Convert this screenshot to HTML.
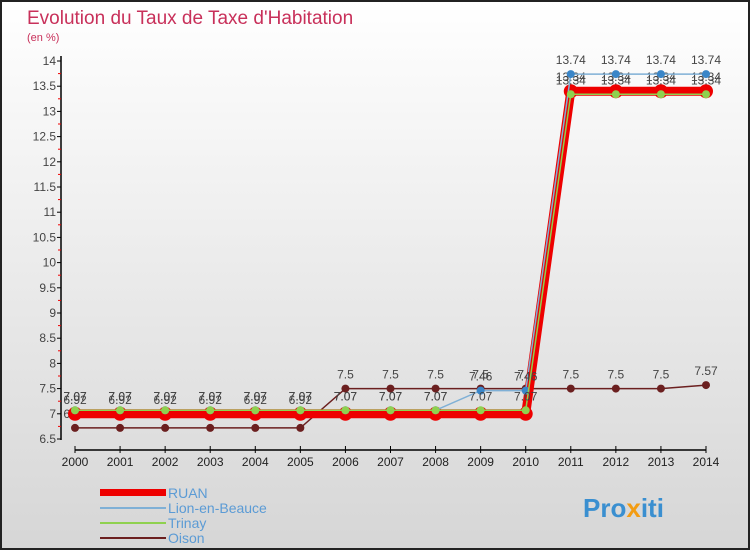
<!DOCTYPE html>
<html><head><meta charset="utf-8"><style>
body{margin:0;width:750px;height:550px;overflow:hidden;font-family:"Liberation Sans",sans-serif}
</style></head><body>
<svg width="750" height="550" xmlns="http://www.w3.org/2000/svg">
<defs><linearGradient id="bg" x1="0" y1="0" x2="0" y2="1"><stop offset="0" stop-color="#ffffff"/><stop offset="1" stop-color="#d6d6d6"/></linearGradient></defs>
<rect x="1" y="1" width="748" height="548" fill="url(#bg)" stroke="#222" stroke-width="2"/>
<text x="27" y="24" font-size="19" fill="#c8305a">Evolution du Taux de Taxe d'Habitation</text>
<text x="27" y="41" font-size="11" fill="#c8305a">(en %)</text>
<g id="axes"></g><g id="series"></g>
<g>
<rect x="100" y="489" width="66" height="7" fill="#e00"/>
<text x="168" y="498" font-size="14" fill="#5b9bd5">RUAN</text>
<line x1="100" y1="508" x2="166" y2="508" stroke="#7fb0d6" stroke-width="2"/>
<text x="168" y="513" font-size="14" fill="#5b9bd5">Lion-en-Beauce</text>
<line x1="100" y1="523" x2="166" y2="523" stroke="#8fd14f" stroke-width="2"/>
<text x="168" y="528" font-size="14" fill="#5b9bd5">Trinay</text>
<line x1="100" y1="538" x2="166" y2="538" stroke="#6b1f1f" stroke-width="2"/>
<text x="168" y="543" font-size="14" fill="#5b9bd5">Oison</text>
</g>
<text x="583" y="517" font-size="26" font-weight="bold" fill="#3a8fd0">Pro<tspan fill="#f39c12">x</tspan>iti</text>
</svg>
<script>
const years=[2000,2001,2002,2003,2004,2005,2006,2007,2008,2009,2010,2011,2012,2013,2014];
const yTicks=[6.5,7,7.5,8,8.5,9,9.5,10,10.5,11,11.5,12,12.5,13,13.5,14];
const ruan=[7,7,7,7,7,7,7,7,7,7,7,13.4,13.4,13.4,13.4];
const lion=[7.07,7.07,7.07,7.07,7.07,7.07,7.07,7.07,7.07,7.46,7.46,13.74,13.74,13.74,13.74];
const trinay=[7.07,7.07,7.07,7.07,7.07,7.07,7.07,7.07,7.07,7.07,7.07,13.34,13.34,13.34,13.34];
const oison=[6.72,6.72,6.72,6.72,6.72,6.72,7.5,7.5,7.5,7.5,7.5,7.5,7.5,7.5,7.57];
const ruanLbl=["6.92","6.92","6.92","6.92","6.92","6.92","","","","","","13.34","13.34","13.34","13.34"];
const NS="http://www.w3.org/2000/svg";
const X=i=>75+i*(706-75)/14;
const Y=v=>439-(v-6.5)*(439-61)/7.5;
function mk(t,a,p){const e=document.createElementNS(NS,t);for(const k in a)e.setAttribute(k,a[k]);p.appendChild(e);return e;}
const ax=document.getElementById('axes'),sg=document.getElementById('series');
let l=mk('line',{x1:61,y1:56,x2:61,y2:440,stroke:'#000','stroke-width':1.5},ax);

l=mk('line',{x1:75,y1:450,x2:706,y2:450,stroke:'#000','stroke-width':1.5},ax);

yTicks.forEach((v,i)=>{mk('line',{x1:57,y1:Y(v),x2:61,y2:Y(v),stroke:'#000'},ax);
if(i<yTicks.length-1)mk('line',{x1:58,y1:Y(v+0.25),x2:61,y2:Y(v+0.25),stroke:'#e00'},ax);
const t=mk('text',{x:56,y:Y(v)+4,'font-size':12,fill:'#444','text-anchor':'end'},ax);t.textContent=v;
});
years.forEach((yr,i)=>{mk('line',{x1:X(i),y1:446,x2:X(i),y2:453,stroke:'#000'},ax);
const t=mk('text',{x:X(i),y:466,'font-size':12,fill:'#222','text-anchor':'middle'},ax);t.textContent=yr;
});
function series(vals,name,color,w,r,dot,labels){
const g=mk('g',{},sg);
const p=mk('polyline',{points:vals.map((v,i)=>X(i)+','+Y(v)).join(' '),fill:'none',stroke:color,'stroke-width':w},g);

vals.forEach((v,i)=>{const c=mk('circle',{cx:X(i),cy:Y(v),r:r,fill:dot},g);

const lb=labels?labels[i]:String(v);if(lb){const t=mk('text',{x:X(i),y:Y(v)-10,'font-size':12,fill:'#444','text-anchor':'middle'},g);t.textContent=lb;
}});}
series(oison,'oison','#6b1f1f',1.5,4,'#6b1f1f');
series(ruan,'ruan','#e00',9,7,'#e00',ruanLbl);
series(lion,'lion','#7fb0d6',1.5,4,'#3a86c8');
series(trinay,'trinay','#8fd14f',1.5,4,'#8fd14f');
</script>
</body></html>
